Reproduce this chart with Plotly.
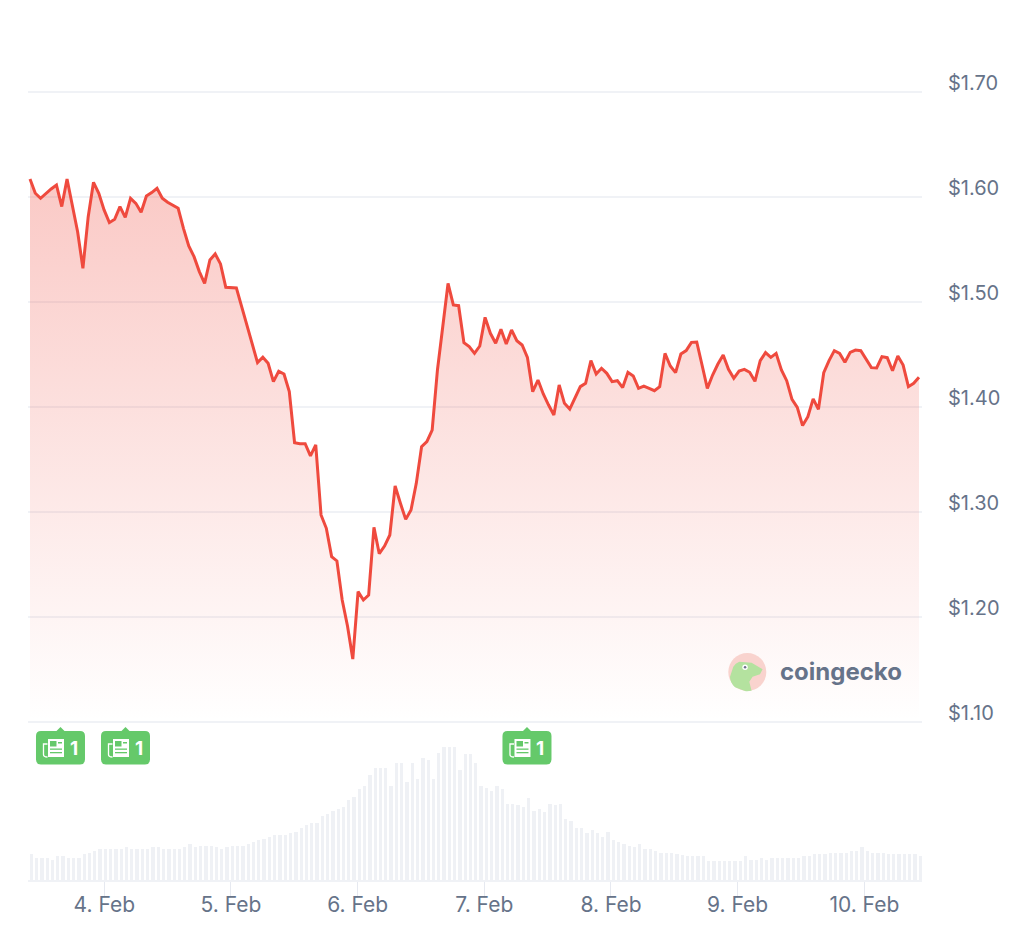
import pandas as pd
import plotly.graph_objects as go

# hourly-ish samples
start_time = "2025-02-03 09:55:19"
end_time = "2025-02-10 10:21:30"
prices = [
    1.6167, 1.6031, 1.5983, 1.6031, 1.6072, 1.6110, 1.5904, 1.6167, 1.5904, 1.5665,
    1.5316, 1.5808, 1.6135, 1.6031, 1.5872, 1.5751, 1.5783, 1.5904, 1.5802, 1.5983,
    1.5935, 1.5850, 1.6005, 1.6037, 1.6078, 1.5983, 1.5945, 1.5913, 1.5888, 1.5697,
    1.5529, 1.5427, 1.5285, 1.5173, 1.5396, 1.5453, 1.5358, 1.5135, 1.5129, 1.5129,
    1.4951, 1.4767, 1.4586, 1.4418, 1.4469, 1.4411, 1.4237, 1.4335, 1.4310, 1.4142,
    1.3656, 1.3646, 1.3646, 1.3529, 1.3634, 1.2967, 1.2840, 1.2570, 1.2529, 1.2157,
    1.1910, 1.1595, 1.2237, 1.2157, 1.2205, 1.2849, 1.2598, 1.2671, 1.2776, 1.3243,
    1.3078, 1.2925, 1.3014, 1.3268, 1.3617, 1.3665, 1.3776, 1.4348, 1.4760, 1.5173,
    1.4967, 1.4960, 1.4608, 1.4570, 1.4506, 1.4576, 1.4849, 1.4697, 1.4602, 1.4735,
    1.4595, 1.4729, 1.4627, 1.4586, 1.4468, 1.4141, 1.4252, 1.4119, 1.4014, 1.3919,
    1.4205, 1.4030, 1.3976, 1.4078, 1.4189, 1.4221, 1.4437, 1.4310, 1.4364, 1.4316,
    1.4237, 1.4246, 1.4180, 1.4326, 1.4291, 1.4173, 1.4195, 1.4173, 1.4151, 1.4189,
    1.4506, 1.4386, 1.4322, 1.4500, 1.4532, 1.4611, 1.4614, 1.4395, 1.4173, 1.4300,
    1.4405, 1.4491, 1.4354, 1.4268, 1.4338, 1.4354, 1.4326, 1.4240, 1.4437, 1.4513,
    1.4468, 1.4506, 1.4348, 1.4246, 1.4068, 1.3992, 1.3818, 1.3903, 1.4072, 1.3973,
    1.4322, 1.4437, 1.4532, 1.4506, 1.4421, 1.4516, 1.4538, 1.4532, 1.4453, 1.4370,
    1.4367, 1.4475, 1.4465, 1.4341, 1.4481, 1.4395, 1.4189, 1.4221, 1.4278,
]
volumes = [
    26, 22, 22, 22, 20, 24, 24, 22, 22, 22,
    25.7, 27.3, 29, 31, 31, 31, 31, 31, 32.7, 31,
    31, 31, 31, 32.7, 32.7, 31, 31, 31, 31, 32.7,
    36, 32.7, 34.3, 34.3, 34.3, 32.7, 31, 32.7, 34.3, 34.3,
    34.3, 36, 37.7, 39.7, 41.3, 43, 45, 45, 45, 46.7,
    48.3, 52, 55.3, 57, 57, 64, 66, 69.3, 71.3, 72.7,
    80, 83.3, 90.7, 94, 105, 111.7, 111.7, 111.7, 94, 116.7,
    116.7, 97.7, 116.7, 101, 122, 120.3, 101, 127.3, 132.7, 132.7,
    132.7, 110, 125.7, 125.7, 116.7, 94, 92, 88.7, 94, 90.7,
    76.3, 76.3, 74.7, 73, 81.7, 69.3, 71, 67.7, 76.3, 74.7,
    76.3, 60.7, 59, 51.7, 51.7, 46.7, 50, 46.7, 43, 48.3,
    39.7, 37.7, 36, 34.3, 32.7, 36, 31, 31, 29, 27.3,
    27.3, 27.3, 25.7, 25, 24, 24, 24, 24, 18.7, 18.7,
    18.7, 18.7, 18.7, 18.7, 18.7, 24, 20.3, 20.3, 22, 20.3,
    22, 22, 22, 22, 22, 22, 24, 24, 25.7, 25.7,
    25.7, 27.3, 27.3, 27.3, 27.3, 29.3, 29.3, 32.7, 29.3, 27.3,
    27.3, 27.3, 25.7, 25.7, 25.7, 25.7, 25.7, 25.7, 24,
]
price_ticks = [1.10, 1.20, 1.30, 1.40, 1.50, 1.60, 1.70]
price_labels = ["$1.10", "$1.20", "$1.30", "$1.40", "$1.50", "$1.60", "$1.70"]
day_ticks = ["2025-02-04", "2025-02-05", "2025-02-06", "2025-02-07",
             "2025-02-08", "2025-02-09", "2025-02-10"]
day_labels = ["4. Feb", "5. Feb", "6. Feb", "7. Feb", "8. Feb", "9. Feb", "10. Feb"]
news_times = ["2025-02-03 15:42", "2025-02-04 04:01", "2025-02-07 08:05"]
news_counts = ["1", "1", "1"]

RED = "#ef4a3e"
GRID = "#f0f2f6"
BAR = "#eff1f5"
TEXT = "#667389"
GREEN = "#65c96a"
FONT = "Inter"
W, H = 1024, 930


def px_rect(x0, x1, y0, y1):
    return f"M{x0},{y0} L{x1},{y0} L{x1},{y1} L{x0},{y1} Z"


def badge_shapes(when):
    # everything in pixels around the tip of the badge, y is up from the 1.10 line
    common = dict(xref="x", yref="paper", xsizemode="pixel", ysizemode="pixel",
                  xanchor=when, yanchor=1 - 721.5 / H, layer="above")
    body = ("M-19.5,-9.5 L-4,-9.5 L0,-5.5 L4,-9.5 L19.5,-9.5 Q24.5,-9.5 24.5,-14.5 "
            "L24.5,-38 Q24.5,-43 19.5,-43 L-19.5,-43 Q-24.5,-43 -24.5,-38 "
            "L-24.5,-14.5 Q-24.5,-9.5 -19.5,-9.5 Z")
    out = [dict(type="path", path=body, fillcolor=GREEN, line_width=0, **common)]
    out.append(dict(type="path", path=px_rect(-12.5, 3.5, -17.5, -35.5),
                    fillcolor="white", line_width=0, **common))
    out.append(dict(type="path", path="M-13,-22.5 L-17,-22.5 L-17,-33 Q-17,-35.5 -13,-35.5",
                    line=dict(color="white", width=1.3), **common))
    for path in [px_rect(-10.5, -4, -19.5, -25), px_rect(-2.5, 1.5, -20.5, -22),
                 px_rect(-10.5, 1.5, -27, -28.3), px_rect(-10.5, 1.5, -30.5, -31.8)]:
        out.append(dict(type="path", path=path, fillcolor=GREEN, line_width=0, **common))
    return out


def logo_shapes():
    common = dict(xref="paper", yref="paper", xsizemode="pixel", ysizemode="pixel",
                  xanchor=747.3 / W, yanchor=1 - 672 / H, layer="above")
    gecko = ("M-17.3,-4.7 L-14,5.3 Q-12,9 -8,10.3 L4.3,9.3 L15.3,2.7 L12.7,-2.3 L5.3,-4.7 "
             "L2,-9.7 L4.3,-18.7 Q0,-19.5 -2.3,-19 L-12.3,-15.3 Q-17.5,-10 -17.3,-4.7 Z")
    return [
        dict(type="circle", x0=-19, x1=19, y0=-19, y1=19, fillcolor="#f9d3ce", line_width=0, **common),
        dict(type="path", path=gecko, fillcolor="#b4e29f", line_width=0, **common),
        dict(type="circle", x0=-5, x1=0.5, y0=2, y1=7.5, fillcolor="white", line_width=0, **common),
        dict(type="circle", x0=-3.5, x1=-1, y0=3.5, y1=6, fillcolor="#6b6f8a", line_width=0, **common),
    ]


times = pd.date_range(start_time, end_time, periods=len(prices))

fig = go.Figure()
fig.add_trace(go.Bar(x=times, y=volumes, xaxis="x", yaxis="y2",
                     marker=dict(color=BAR, line_width=0),
                     width=2.25e6, offset=-2.4e5))
fig.add_trace(go.Scatter(x=times, y=prices, mode="lines", xaxis="x", yaxis="y",
                         line=dict(color=RED, width=3),
                         fill="tozeroy",
                         fillgradient=dict(type="vertical", start=1.62, stop=1.10,
                                           colorscale=[[0, "rgba(239,74,62,0.30)"],
                                                       [1, "rgba(239,74,62,0)"]])))

shapes = logo_shapes()
annotations = [dict(text="<b>coingecko</b>", xref="paper", yref="paper",
                    x=778 / W, y=1 - 671 / H, xanchor="left", yanchor="middle",
                    showarrow=False, font=dict(family=FONT, size=24, color=TEXT))]
for when, count in zip(news_times, news_counts):
    shapes += badge_shapes(when)
    annotations.append(dict(text=f"<b>{count}</b>", x=when, y=1 - 748 / H, xref="x", yref="paper",
                            xshift=13.5, yanchor="middle", showarrow=False,
                            font=dict(family=FONT, size=19, color="white")))

fig.update_layout(
    width=W, height=H, margin=dict(l=0, r=0, t=0, b=0, autoexpand=False),
    paper_bgcolor="white", plot_bgcolor="white", showlegend=False, bargap=0,
    font=dict(family=FONT, size=20, color=TEXT),
    xaxis=dict(domain=[28 / W, 922 / W], anchor="y2", type="date",
               range=["2025-02-03 09:32:36", "2025-02-10 10:55:41"],
               tickvals=day_ticks, ticktext=day_labels, ticks="outside", ticklen=16,
               ticklabelstandoff=-11,
               tickcolor="#e6e9f0", tickwidth=1, showgrid=False, showline=True,
               linecolor=GRID, linewidth=2, zeroline=False,
               tickfont=dict(family=FONT, size=21, color=TEXT)),
    # range runs a bit past 1.10 and 1.70 so both grid lines are drawn
    yaxis=dict(domain=[1 - 732 / H, 1 - 81 / H], range=[1.09, 1.71], side="right",
               anchor="x", tickvals=price_ticks, ticktext=price_labels,
               ticklabelstandoff=25, ticklabelshift=-9, ticks="",
               showgrid=True, gridcolor=GRID, gridwidth=1.5, zeroline=False, showline=False,
               tickfont=dict(family=FONT, size=20, color=TEXT)),
    yaxis2=dict(domain=[1 - 880 / H, 1 - 730 / H], range=[0, 150], anchor="x",
                visible=False),
    shapes=shapes, annotations=annotations,
)

fig.write_html("out.html", config=dict(displayModeBar=False),
               post_script="document.body.style.margin='0';")
